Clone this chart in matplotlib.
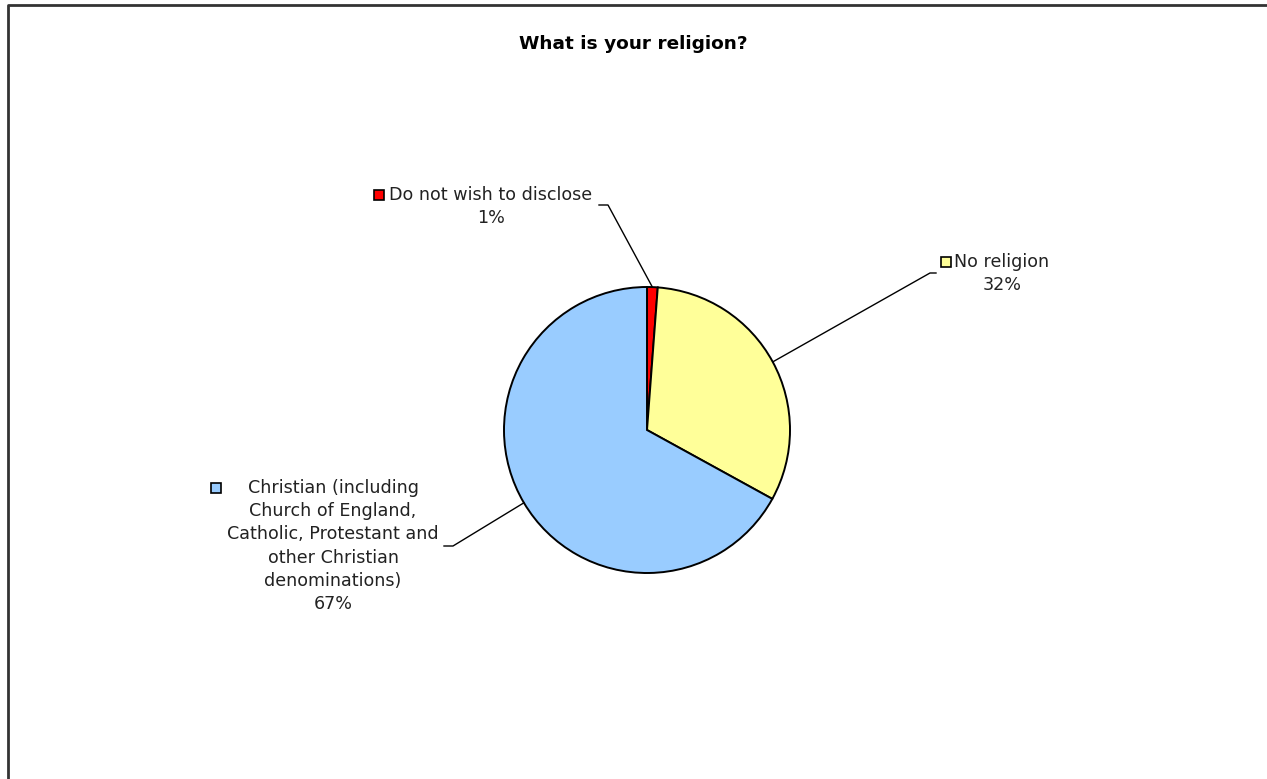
import matplotlib.pyplot as plt
import numpy as np

# Pie data (clockwise from 12 o'clock)
categories = ["Do not wish to disclose", "No religion",
              "Christian (including\nChurch of England,\nCatholic, Protestant and\nother Christian\ndenominations)"]
shares = [1.2, 31.8, 67.0]
pct_labels = ["1%", "32%", "67%"]
colors = ["#FF0000", "#FFFF99", "#99CCFF"]

W, H = 1267, 779
fig = plt.figure(figsize=(W / 100, H / 100), dpi=100)
ax = fig.add_axes([0, 0, 1, 1])

def py(y):
    # pixel row -> data y
    return H - y

cx, cy, r = 647, py(430), 143
wedges, _ = ax.pie(shares, colors=colors, startangle=90, counterclock=False,
                   center=(cx, cy), radius=r, frame=True,
                   wedgeprops=dict(edgecolor="black", linewidth=1.4))
ax.set_xlim(0, W)
ax.set_ylim(0, H)
ax.set_aspect("equal")
ax.axis("off")

# chart frame (left + top visible)
ax.plot([8, 8, W], [0, py(5), py(5)], color="#333333", lw=2, solid_capstyle="butt")

ax.text(633, py(44), "What is your religion?", ha="center", va="center",
        fontsize=13.3, fontweight="bold", family="DejaVu Sans")

# label layout: text centre x, first line y, square x/y, leader elbow points
layout = [
    dict(tx=491, ty=195, sx=379, sy=195, lead=[(599, 205), (608, 205)]),
    dict(tx=1002, ty=262, sx=946, sy=262, lead=[(936, 273), (930, 273)]),
    dict(tx=333, ty=488, sx=216, sy=488, lead=[(444, 546), (453, 546)]),
]
line_h = 23.2
fs = 12.6

for w, name, pct, col, lay in zip(wedges, categories, pct_labels, colors, layout):
    lines = name.split("\n") + [pct]
    for i, ln in enumerate(lines):
        ax.text(lay["tx"], py(lay["ty"] + i * line_h), ln, ha="center", va="center",
                fontsize=fs, color="#222222", family="DejaVu Sans")
    ax.plot(lay["sx"], py(lay["sy"]), marker="s", markersize=7.8,
            markerfacecolor=col, markeredgecolor="black", markeredgewidth=1.2)
    # leader line to wedge middle
    mid = np.deg2rad((w.theta1 + w.theta2) / 2)
    ex, ey = cx + r * np.cos(mid), cy + r * np.sin(mid)
    (x1, y1), (x2, y2) = lay["lead"]
    ax.plot([x1, x2, ex], [py(y1), py(y2), ey], color="black", lw=1.0)

fig.savefig("out.png", dpi=100, facecolor="white")
